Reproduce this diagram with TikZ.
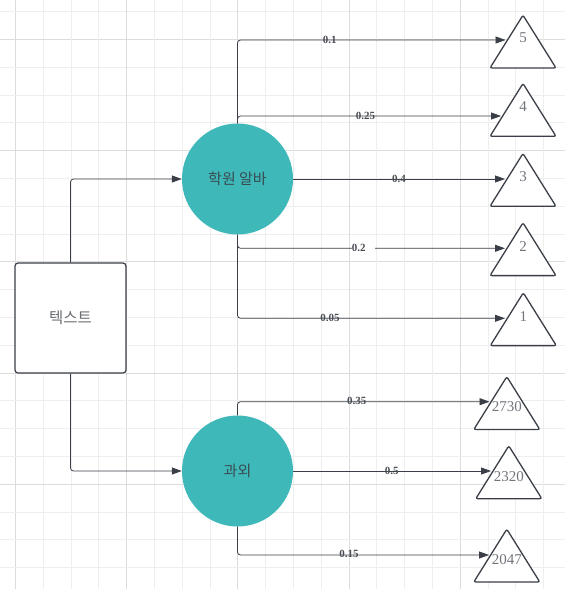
\documentclass[tikz,border=0pt]{standalone}
\usepackage{fontspec}
\setmainfont{Liberation Serif}
\newfontfamily\kr{Noto Sans CJK KR}
\usetikzlibrary{arrows.meta}
\definecolor{gridminor}{HTML}{EEEEEE}
\definecolor{gridmajor}{HTML}{DCDCDC}
\definecolor{teal1}{HTML}{3EB8B8}
\definecolor{linec}{HTML}{3A3F47}
\definecolor{labc}{HTML}{4A4E55}
\definecolor{numc}{HTML}{72757C}
\definecolor{krc}{HTML}{3A4D52}
\definecolor{boxtc}{HTML}{6A6D73}
\tikzset{
  conn/.style={draw=linec, line width=0.8pt, rounded corners=3pt, -{Triangle[length=10pt,width=7pt]}},
  rbox/.style={draw=linec, line width=1.2pt, rounded corners=3pt, minimum width=111pt, minimum height=110pt, fill=white, text=boxtc, font=\kr\fontsize{15.5pt}{17pt}\selectfont},
  circ/.style={circle, fill=teal1, minimum size=111pt, inner sep=0pt, text=krc, font=\kr\fontsize{15pt}{17pt}\selectfont},
  tri/.style={draw=linec, line width=1.3pt, rounded corners=2pt, fill=white},
  num/.style={text=numc, font=\fontsize{15pt}{17pt}\selectfont, inner sep=0pt},
  elab/.style={text=labc, font=\bfseries\fontsize{11pt}{13pt}\selectfont, inner sep=0pt},
}
\begin{document}
\begin{tikzpicture}[x=1pt,y=-1pt]
\useasboundingbox (0,0) rectangle (565,589);
\fill[white] (0,0) rectangle (565,589);
% grid
\foreach \k in {0,...,20} {
  \pgfmathsetmacro{\gx}{15.3+27.8*\k}
  \pgfmathsetmacro{\gy}{11.6+27.8*\k}
  \pgfmathtruncatemacro{\mx}{mod(\k,4)}
  \pgfmathtruncatemacro{\my}{mod(\k+3,4)}
  \ifnum\mx=0 \draw[gridmajor, line width=0.8pt] (\gx,0) -- (\gx,589); \else \draw[gridminor, line width=0.8pt] (\gx,0) -- (\gx,589); \fi
  \ifnum\my=0 \draw[gridmajor, line width=0.8pt] (0,\gy) -- (565,\gy); \else \draw[gridminor, line width=0.8pt] (0,\gy) -- (565,\gy); \fi
}
% triangles: apex, half base 33, height 52.8
\foreach \ax/\ay/\nm/\ty/\txt in {523/15.2/t5/38/5, 523/83.5/t4/107/4, 523/153.5/t3/177/3, 523/222.8/t2/247/2, 523.3/292.8/t1/317/1, 506.8/376.7/tA/407/2730, 508.8/445.9/tB/477/2320, 506.8/529.2/tC/560/2047} {
  \draw[tri] (\ax,\ay) -- (\ax+33,\ay+52.8) -- (\ax-33,\ay+52.8) -- cycle;
  \node[num] (\nm) at (\ax,\ty) {\txt};
}
% arrow end points on triangle edges
\coordinate (e5) at (505.5,40);
\coordinate (e4) at (501,116);
\coordinate (e3) at (505,179);
\coordinate (e2) at (505,248.3);
\coordinate (e1) at (505,318.3);
\coordinate (eA) at (489.5,401.7);
\coordinate (eB) at (491,471);
\coordinate (eC) at (489,555);
% main nodes
\node[rbox] (t) at (70.5,318) {텍스트};
\node[circ] (c1) at (237.5,179) {학원 알바};
\node[circ] (c2) at (237.5,471) {과외};
% connectors
\draw[conn] (t.north) |- (c1.west);
\draw[conn] (t.south) |- (c2.west);
\draw[conn] (c1.north) |- (e5);
\draw[conn] (c1.north) |- (e4);
\draw[conn] (c1.east) -- (e3);
\draw[conn] (c1.south) |- (e2);
\draw[conn] (c1.south) |- (e1);
\draw[conn] (c2.north) |- (eA);
\draw[conn] (c2.east) -- (eB);
\draw[conn] (c2.south) |- (eC);
% labels
\node[elab] (l1) at (329.7,39.5) {0.1};
\node[elab] (l2) at (365.5,116) {0.25};
\node[elab] (l3) at (399,178.5) {0.4};
\node[elab, fill=white, anchor=west, inner ysep=2pt] (l4) at (351.7,247.8) {0.2\hspace*{9pt}};
\node[elab] (l5) at (330,317.5) {0.05};
\node[elab] (l6) at (356.7,400.5) {0.35};
\node[elab] (l7) at (391.8,470.5) {0.5};
\node[elab] (l8) at (349,554) {0.15};
\end{tikzpicture}
\end{document}
